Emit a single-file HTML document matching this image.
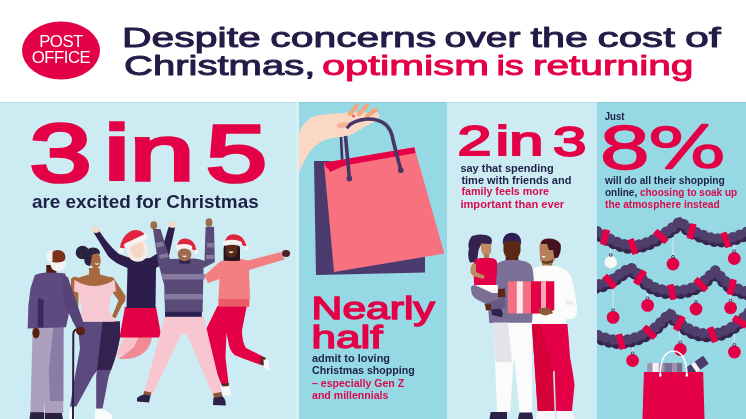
<!DOCTYPE html>
<html><head><meta charset="utf-8"><title>Despite concerns over the cost of Christmas, optimism is returning</title>
<style>
*{margin:0;padding:0}
html,body{width:746px;height:419px;overflow:hidden;background:#fff}
svg{display:block;font-family:"Liberation Sans",Arial,sans-serif}
</style></head><body>
<svg width="746" height="419" viewBox="0 0 746 419">
<rect width="746" height="419" fill="#fff"/>
<rect x="0" y="102" width="297" height="317" fill="#cdebf3"/>
<rect x="296.8" y="102" width="2" height="317" fill="#d9f4f9"/>
<rect x="298.8" y="102" width="148.2" height="317" fill="#97d8e5"/>
<rect x="447" y="102" width="150" height="317" fill="#cdebf3"/>
<rect x="597" y="102" width="149" height="317" fill="#97d8e5"/>
<rect x="0" y="102" width="297" height="1.2" fill="#bfdfe8"/>
<rect x="298.8" y="102" width="148.2" height="1.2" fill="#89cad6"/>
<rect x="447" y="102" width="150" height="1.2" fill="#bfdfe8"/>
<rect x="597" y="102" width="149" height="1.2" fill="#89cad6"/>
<ellipse cx="61" cy="50.5" rx="39" ry="29" fill="#e40046"/>
<text x="61" y="46.7" text-anchor="middle" font-size="16.8" fill="#fff" letter-spacing="-0.5">POST</text>
<text x="61" y="63.3" text-anchor="middle" font-size="16.8" fill="#fff" letter-spacing="-0.5">OFFICE</text>
<!-- panel 1: people -->
<g id="p1">
<!-- woman 3 (white hair, red skirt) -->
<path d="M124 337 L140 337 Q138 348 128 353 Q122 356 115.7 356.7 Q119 348 124 337 Z" fill="#f7c2cc"/>
<path d="M138.6 337 L152 337 Q150 352 135 357.5 Q125 360 118 358.6 Q128 353 134 347 Z" fill="#f28a95"/>
<path d="M125 307 L156 307 L161.5 337.6 L119.5 337.6 Z" fill="#e40046"/>
<path d="M93 231.5 L99.5 231.5 Q110 247 119 254 Q128 258 136 259 L150 258 L161.5 251 L168.5 227 L175 227.5 L169 256 Q164 264 156 268 L155.5 308 L126.5 308 L127.5 268 Q114 263 108 256 Z" fill="#2d1d4c"/>
<circle cx="95.8" cy="229.5" r="3.5" fill="#f7d6c4"/>
<circle cx="172.3" cy="224.5" r="3.3" fill="#f7d6c4"/>
<ellipse cx="137.8" cy="250.5" rx="10.8" ry="11.2" fill="#f4ebe7"/>
<ellipse cx="137.5" cy="249.5" rx="7" ry="8.5" fill="#f6d6c4"/>
<path d="M119.5 250 Q121 237 130 231.5 Q138 228 143.5 233 L145.5 237.5 L127.5 246.5 Z" fill="#e0243e"/>
<path d="M126.5 245.5 L145 236.8" stroke="#f7f2f0" stroke-width="5.2" stroke-linecap="round"/>
<circle cx="121" cy="250.5" r="2.7" fill="#f7f2f0"/>
<!-- woman 5 (pink sweater) -->
<path d="M217.5 306 L227 306 L226.7 326.8 L225.5 358 L228.6 384 L221.5 385 L211.5 359 L205.7 330 Z" fill="#e40046"/>
<path d="M225.5 306 L246.8 306 L242 330 Q242 342 246 348 L265 357.5 L263 365.5 Q246 360 234.4 355 Q229 350 228 340 L225 328 Z" fill="#e40046"/>
<path d="M221.8 383.5 L228.6 383 L229 387.5 L222.5 388 Z M261 356.5 L265.9 358 L264 365.5 L260 364 Z" fill="#5a2818"/>
<path d="M221 386.5 L230 386 L231 395.9 L222.5 395 Z M263.5 359.5 L268.5 360 L269.7 371 L264 368 Z" fill="#f7f7f9"/>
<path d="M219.5 262 Q228 258.5 234 258.5 Q242 258.5 248 260.5 L281 252 L284.5 259.5 L249 270 L250.1 299.2 L218.4 299.2 L219.5 279 L208 283 L204.5 275.5 Z" fill="#f47f82"/>
<rect x="218.4" y="299" width="31" height="7.7" fill="#ec5a6a"/>
<ellipse cx="286" cy="253.5" rx="4" ry="3.4" fill="#4a2020"/>
<rect x="228.6" y="254" width="8.6" height="7" fill="#4a1c10"/>
<path d="M223.6 248 Q224 243 231 243 Q240 243 240 248 L240 260.8 L223.6 260.8 Z" fill="#2a1420"/>
<path d="M226 245 L237.2 245 L237.2 253 Q235 257.5 231.5 257.5 Q227 257.5 226 253 Z" fill="#5a2818"/>
<path d="M228.5 251.5 Q231 254.5 233.8 251.5 Z" fill="#fff"/>
<path d="M224.5 243 Q226 234.5 233.5 234.3 Q241 234.3 244.5 241 L247 247 L240 244 Z" fill="#e0243e"/>
<path d="M225.5 243.2 Q232 241 239.5 243.5" stroke="#f7f2f0" stroke-width="5" stroke-linecap="round" fill="none"/>
<circle cx="246.2" cy="248" r="2.3" fill="#f7f2f0"/>
<!-- man 4 (striped sweater) -->
<path d="M165 316 L203.5 316 L222 393 L213 395 L187 335 L182 333 L152 395 L144 393 Z" fill="#f8c6d0"/>
<path d="M144 391 L151.5 392.5 L150.5 396 L143.5 395 Z M213 393.5 L221.5 392 L222.5 397 L214 398 Z" fill="#8a5a38"/>
<path d="M137 398 Q140 395 144 394.5 L150.5 395.5 L149 402.6 L137 401.5 Z M213.4 397.8 L222.5 396.5 Q226 399 225.8 405.4 L213 405 Z" fill="#2a2146"/>
<path d="M153 229 L160.5 229 L170 259 Q176 258.5 193 258.5 Q200 258.5 204.5 261 L205.6 226.7 L214 226.7 L214.8 262 L203.5 268 L202.6 312 L165 312 L164.2 285 L158 262 Z" fill="#5a4a78"/>
<g fill="#857a9e">
<path d="M161.5 274 L205 274 L204.5 279.5 L162.3 279.5 Z"/>
<path d="M164.5 294 L203 294 L203 299.5 L164.5 299.5 Z"/>
<path d="M155.4 243 L162.6 241.5 L164 246 L156.8 247.5 Z"/>
<path d="M207 243 L213.7 243 L213.8 247.5 L207 247.5 Z"/>
<path d="M159 255 L167.5 253 L168.5 257 L160 258.5 Z"/>
<path d="M206 255 L214.4 255 L214.5 259 L206 259 Z"/>
</g>
<rect x="165" y="311.8" width="36.8" height="5" fill="#2d2050"/>
<ellipse cx="153.8" cy="225.2" rx="3.4" ry="4" fill="#9c6c4c"/>
<ellipse cx="209" cy="222.5" rx="3.4" ry="4.2" fill="#9c6c4c"/>
<path d="M179.7 259 L189.8 259 L190 263.4 L179.5 263.4 Z" fill="#2d2050"/>
<ellipse cx="184.6" cy="254.5" rx="6.8" ry="6.8" fill="#9c6c4c"/>
<path d="M182 255.8 Q184.6 258.6 187.2 255.8 Z" fill="#fff"/>
<path d="M177 247 Q178 238.5 185 238.6 Q192 238.8 195 245 L196.5 251 L191.5 249 Z" fill="#e0243e"/>
<path d="M178.2 247.2 Q184 245.3 190 247.5" stroke="#f7f2f0" stroke-width="4.6" stroke-linecap="round" fill="none"/>
<circle cx="196" cy="252" r="2.2" fill="#f7f2f0"/>
<!-- woman 2 (pink top) -->
<path d="M77.5 321.5 L103.4 321.5 L97.6 370 L93 376 L76.3 406.5 L70 406.5 L75 376 L80 348.4 Z" fill="#5c4a7f"/>
<path d="M102 321.5 L120 321.5 L120 337 Q117 355 111 370 L108.8 376 L102.5 408.6 L96.2 408.6 L96.2 376 L97 370 Z" fill="#5c4a7f"/>
<path d="M102.6 321.5 L120 321.5 L120 337 Q117 355 111 370 L97 370 Z" fill="#34224f"/>
<path d="M95 409.6 L102.5 409 Q108 412 112 415 L112 419 L95 419 Z M69.5 408.5 L74.5 408.5 L75 419 L69 419 Z" fill="#fbfbfc"/>
<path d="M71 279 Q73.5 275.5 78 277.5 L78.5 300 L77.5 322 L72.5 322 L71 300 Z" fill="#a8683f"/>
<path d="M109 277 Q113 276 115 280 L125.5 296 Q126 301 122 305 L115.5 318.5 L112 316.5 L118.5 300.5 L110 289 Z" fill="#a8683f"/>
<path d="M89 268 L99.5 268 L100 274.5 Q108 276 114 279 L114 284 L95 288 L75 284 L75 279 Q82 276 89 274.5 Z" fill="#a8683f"/>
<path d="M74.5 280 Q84 286 95 286 Q106 286 114.5 279.5 L116 291 L111.5 293 L108.5 309 L115 321.8 L78.4 321.8 L82 309 L79 293 L74 291 Z" fill="#f8c8d2"/>
<ellipse cx="95.5" cy="260.5" rx="5.2" ry="8.2" fill="#a8683f"/>
<path d="M94.5 263.5 Q97 266 99.5 263.5 Z" fill="#fff"/>
<circle cx="82.5" cy="252.5" r="6.8" fill="#2a2340"/>
<path d="M84 255 Q86 247.5 93 247.5 Q100.5 248 100 254 Q96 252.5 92 255 L90.5 266 Q86 266 84.5 262 Z" fill="#2a2340"/>
<!-- old man -->
<path d="M32.7 327 L63.5 327 L63.3 413 L45 413 L44.5 401 L44 413 L30.4 413 Z" fill="#aba1bf"/>
<path d="M53.5 327 L63.5 327 L63.3 401 L50 401 L48.7 370 Z" fill="#8a7ca6"/>
<path d="M30.4 412.3 L44.2 412.3 L44.2 419 L29.5 419 Z M45 413 L61.7 413 L63 419 L45 419 Z" fill="#2a2140"/>
<rect x="46.3" y="265" width="10.1" height="9" fill="#4a1e10"/>
<path d="M34.9 275 Q40 272.5 46 272.5 L56 272.8 Q62 273 65 273.6 L67.8 280.8 L70.7 305 L66 327.2 L27.7 328.6 L28.4 305 L30.6 288 Z" fill="#5e4a80"/>
<path d="M38 298 L43.5 300 L43.5 327.2 L37.7 327.2 Z" fill="#3b2858"/>
<path d="M62 276 L67.8 277 L85 327 L77.5 331 L63.5 302 Z" fill="#56437a"/>
<ellipse cx="36" cy="333" rx="3.6" ry="5.2" fill="#5a2010"/>
<path d="M76.7 329.2 Q73.5 330 73.3 334 L73 419" fill="none" stroke="#2a2140" stroke-width="2"/>
<ellipse cx="80.5" cy="331" rx="4.6" ry="4.2" fill="#5a2010"/>
<ellipse cx="57.8" cy="257.2" rx="7.6" ry="7.2" fill="#7a3318"/>
<path d="M47 252 Q49 249 52.5 250.5 L52.5 261 L47.5 261 Q46 256 47 252 Z" fill="#f4f1f2"/>
<path d="M50.6 261 Q54 263 58 262.5 Q62.5 262 65.5 260 Q66.5 267 62 270.5 Q57 272.5 52.5 269.5 Q50 266 50.6 261 Z" fill="#f4f1f2"/>
</g>
<!-- panel 2: hand + bags -->
<g id="p2">
<path d="M298.8 133 C302 126 306 120.5 312 117 C320 114 332 114 348 112.5 L378 112.5 Q380.5 117 377 120.5 L371 123.5 C364 127 357 132 349 135.5 C342 137 336 137.3 330 138.5 C322 140 314 145 308.5 154 C304 161 300.5 168 298.8 174.5 Z" fill="#fbd8c4"/>
<g stroke="#f6a67b" stroke-width="4.2" stroke-linecap="round">
<path d="M350 114 L356.5 106"/><path d="M359 114 L367 105.5"/><path d="M367 116 L376 109.5"/>
</g>
<path d="M341 137 L342.5 168" stroke="#3f3062" stroke-width="2.6" fill="none"/>
<path d="M314 161 L331 161 L425 250 L425 272.5 L316 275 Z" fill="#4a3a6d"/>
<path d="M324 162.7 L414.3 147.3 L444.3 253.6 L334 272 Z" fill="#f7717f"/>
<path d="M324 162.7 L414.3 147.3 L415.5 153 L327 168.5 Z" fill="#e40046"/>
<path d="M326 164 L362 158 L330 172 Z" fill="#e40046"/>
<path d="M349.4 178.6 L345.5 136" stroke="#463766" stroke-width="3.6" fill="none"/>
<path d="M346.5 128 Q353 120 367 119 Q390 118.5 393 140 L400.8 170.2" stroke="#463766" stroke-width="3.6" fill="none" stroke-linejoin="round"/>
<path d="M336.5 124.5 Q342 121 348.5 122.5 Q348 127.5 341 128.5 Q336 128 336.5 124.5 Z" fill="#f4b498"/>
<circle cx="353.5" cy="116" r="1.4" fill="#e8506a"/>
<circle cx="349.4" cy="178.6" r="2.8" fill="#463766"/>
<circle cx="400.8" cy="170.2" r="2.8" fill="#463766"/>
</g>
<!-- panel 3: family -->
<g id="p3">
<!-- dad2 (right) -->
<path d="M542.2 259 L552.2 259 L552.2 268 L542.2 268 Z" fill="#9c6843"/>
<path d="M539.5 246 Q540 241 546 240.5 L554 241.5 L555 259 Q553 264.5 546.5 265 Q541 264.5 540 259 Z" fill="#b5805a"/>
<path d="M542 260.5 Q547 262.5 553 259.5 L553 262.5 Q547 265 542 263 Z" fill="#6b3a25"/>
<path d="M541.5 255.8 L545.5 256.3 L543.8 258.2 Z" fill="#fff"/>
<path d="M540.5 244 Q541 238.5 549 238.5 Q557 238.5 560.5 244 Q562 251 558 257.5 L554.5 258.5 L553 250 L549 250 L547 244 Z" fill="#47101e"/>
<path d="M532 270 Q537 266 543 265.5 L552 265.5 Q562 266.5 567 271 Q572 276 574 288 L577 306 Q578 317 572 319 L566 318 L566 326 L530 326 L528 300 Z" fill="#fbfbfc"/>
<path d="M566 300 L574 302 L576 316 Q572 320 565 319 Z" fill="#e9e9ef"/>
<!-- dad2 pants -->
<path d="M531.9 324 L567.4 324 Q569 340 570 357 Q573 372 574.5 385 L572 411 L556 411 L554.6 370 L553 372 L538 411 L535 371 Z" fill="#e40046"/>
<path d="M531.9 324 L541 324 L553 372 L554.6 411 L537.6 411 L535 371 Z" fill="#d60039"/>
<path d="M537.6 411 L554.6 411 L555 419 L536 419 Z M556.5 411 L572 411 L575 419 L557 419 Z" fill="#f6f6f8"/>
<!-- dad1 (middle) -->
<path d="M505.8 255 L518.2 255 L518.5 263 L505.5 263 Z" fill="#4a200f"/>
<path d="M503.5 239 L520.5 239 L520.5 251 Q519 259 512 261 Q505 259 503.5 251 Z" fill="#5a2814"/>
<path d="M503 245 Q501.5 233.5 512 232.8 Q522 233.3 521 245 L519.5 242 Q512 239.5 504.5 242 Z" fill="#2e2054"/>
<path d="M496 264 Q503 260 508 260 L516 260 Q527 260.5 531 265 Q534 270 534 290 L532 323 L489.3 323 L488 305 Q490 280 496 264 Z" fill="#7a6f96"/>
<!-- dad1 pants -->
<path d="M493.5 322.7 L531.9 322.7 L532 412.5 L519.5 412.5 L514 355 L510 412.5 L497 412.5 Z" fill="#fbfbfc"/>
<path d="M493.5 322.7 L508 322.7 L512 362 L495.5 362 Z" fill="#e3e3ea"/>
<path d="M490.7 412 L507 412 L507 419 L489.5 419 Z M519.5 412.5 L532 412.5 L533 419 L518 419 Z" fill="#2a2146"/>
<!-- girl -->
<path d="M472 236 Q478 233.5 486 235 Q492 236.5 492 241 L491 245 L481 244.5 L478.5 250 L477 262 L470 262.5 Q467 256 469 249 Q467 242 472 236 Z" fill="#34224f"/>
<path d="M481 243.5 L491.2 244 L491.2 252 Q490 255 488 255.5 L483 255 L481 250 Z" fill="#c08a63"/>
<path d="M484 254 L489 254 L489 259 L484 259 Z" fill="#b07a55"/>
<path d="M476 259 Q480 257.5 484 258 L490 258 Q496 258 497 262 L497 272 L495.7 285.7 L474.2 285.7 L473.5 272 Q472 263 476 259 Z" fill="#e40046"/>
<path d="M471 266 Q473 262 476 264 L476 272 L485 276 L483 279 L473 276 Q469 273 471 266 Z" fill="#c08a63"/>
<path d="M475 285 L497.8 285 L497.8 293 L476 293 Z" fill="#fafafa"/>
<path d="M471 287 Q472 284.5 476 285.5 L490 292 L505 299 L503.5 310 L492 307 L478 300 Q470 296 471 287 Z" fill="#7b6f96"/>
<path d="M484 304 L505 297 L506 307 L489 310 Z" fill="#665a85"/>
<path d="M485 304.4 L491 304 L491 310 L486 310.5 Z" fill="#5a2814"/>
<path d="M491 309.4 L501 308.5 L503 314 L502 317.3 L492 315 Z" fill="#2d2550"/>
<path d="M498 289 L505 288.6 L505.5 297 L498 297.5 Z" fill="#5a2814"/>
<!-- gift box -->
<rect x="507.8" y="281.4" width="46.4" height="32" fill="#f37080"/>
<rect x="516.8" y="281.4" width="6" height="32" fill="#fbe9ee"/>
<rect x="531" y="281.4" width="10" height="32" fill="#e40046"/>
<rect x="541" y="281.4" width="5" height="32" fill="#f5a6b4"/>
<rect x="546" y="281.4" width="8.2" height="32" fill="#e40046"/>
<!-- dad2 arm + hand -->
<path d="M552 311 Q562 306 570 304 L577 306 Q578 317 571 319 L553 319 Z" fill="#fbfbfc"/>
<path d="M538 309 Q543 307 550 308.5 L553 313 L546 315.5 Q539 315 538 309 Z" fill="#8d5a38"/>
</g>
<!-- panel 4: garlands -->
<defs>
<clipPath id="cp4"><rect x="597" y="102" width="149" height="317"/></clipPath>
<path id="gl1" d="M588 226 C 600 235, 620 247.5, 633 246.5 C 648 246, 662 236, 672 229 L 680 222.5 L 688 229 C 692 232, 697 234, 705 237 C 713 240, 718 240, 724 240 C 732 240, 740 236, 754 230"/><path id="gl2" d="M588 287 C 600 287, 612 282, 620 275 L 630.5 268.5 L 638 275 C 642 280, 648 286, 656 289 C 662 291, 667 292, 674 292 C 682 292, 692 290, 702 284 L 715 271.5 L 725 282 C 730 287, 738 291, 754 295"/><path id="gl3" d="M588 332 C 600 338, 612 342, 622 341.7 C 636 340, 648 334, 656 328 L 669.5 314.5 L 678 322 C 684 328, 692 332.5, 702 334.5 C 708 335, 713 335, 718 334 C 728 332, 737 326, 754 308"/>
</defs>
<g clip-path="url(#cp4)">
<g stroke="#eef6f8" stroke-width="0.7" fill="none"><path d="M610.7 240 V255.0"/><path d="M673 238 V256.8"/><path d="M734.3 238 V251.3"/><path d="M647.6 290 V298.2"/><path d="M696 290 V301.8"/><path d="M730.6 290 V300.6"/><path d="M613.1 286 V310.2"/><path d="M632.6 341 V353.3"/><path d="M680 330 V342.3"/><path d="M734.4 329 V344.8"/></g>
<g fill="none"><use href="#gl1" stroke="#42325d" stroke-width="9"/><use href="#gl1" transform="translate(0 1.8)" stroke="#36264e" stroke-width="11.5" stroke-linecap="round" stroke-dasharray="0 7.5"/><use href="#gl1" transform="translate(0 -1.3)" stroke="#503f6d" stroke-width="10.5" stroke-linecap="round" stroke-dasharray="0 7.5" stroke-dashoffset="3.7"/><use href="#gl2" stroke="#42325d" stroke-width="9"/><use href="#gl2" transform="translate(0 1.8)" stroke="#36264e" stroke-width="11.5" stroke-linecap="round" stroke-dasharray="0 7.5"/><use href="#gl2" transform="translate(0 -1.3)" stroke="#503f6d" stroke-width="10.5" stroke-linecap="round" stroke-dasharray="0 7.5" stroke-dashoffset="3.7"/><use href="#gl3" stroke="#42325d" stroke-width="9"/><use href="#gl3" transform="translate(0 1.8)" stroke="#36264e" stroke-width="11.5" stroke-linecap="round" stroke-dasharray="0 7.5"/><use href="#gl3" transform="translate(0 -1.3)" stroke="#503f6d" stroke-width="10.5" stroke-linecap="round" stroke-dasharray="0 7.5" stroke-dashoffset="3.7"/></g>
<g fill="#e40046"><rect x="-3.3" y="-7.8" width="6.6" height="15.6" rx="1" transform="translate(605.1 237.3) rotate(15)"/><rect x="-3.3" y="-7.8" width="6.6" height="15.6" rx="1" transform="translate(633.0 246.5) rotate(-18)"/><rect x="-3.3" y="-7.8" width="6.6" height="15.6" rx="1" transform="translate(660.9 236.5) rotate(-47)"/><rect x="-3.3" y="-7.8" width="6.6" height="15.6" rx="1" transform="translate(691.6 231.3) rotate(14)"/><rect x="-3.3" y="-7.8" width="6.6" height="15.6" rx="1" transform="translate(726.0 239.9) rotate(-20)"/><rect x="-3.3" y="-7.8" width="6.6" height="15.6" rx="1" transform="translate(609.9 281.7) rotate(-41)"/><rect x="-3.3" y="-7.8" width="6.6" height="15.6" rx="1" transform="translate(640.0 277.4) rotate(33)"/><rect x="-3.3" y="-7.8" width="6.6" height="15.6" rx="1" transform="translate(671.9 292.0) rotate(-13)"/><rect x="-3.3" y="-7.8" width="6.6" height="15.6" rx="1" transform="translate(700.9 284.7) rotate(-45)"/><rect x="-3.3" y="-7.8" width="6.6" height="15.6" rx="1" transform="translate(731.7 287.0) rotate(15)"/><rect x="-3.3" y="-7.8" width="6.6" height="15.6" rx="1" transform="translate(620.8 341.7) rotate(-15)"/><rect x="-3.3" y="-7.8" width="6.6" height="15.6" rx="1" transform="translate(649.5 332.3) rotate(-45)"/><rect x="-3.3" y="-7.8" width="6.6" height="15.6" rx="1" transform="translate(679.3 323.3) rotate(28)"/><rect x="-3.3" y="-7.8" width="6.6" height="15.6" rx="1" transform="translate(712.6 334.7) rotate(-19)"/><rect x="-3.3" y="-7.8" width="6.6" height="15.6" rx="1" transform="translate(740.0 321.7) rotate(-56)"/></g>
<g fill="#e40046"><circle cx="673" cy="264" r="6.4"/><circle cx="734.3" cy="258.5" r="6.4"/><circle cx="647.6" cy="305.4" r="6.4"/><circle cx="696" cy="309" r="6.4"/><circle cx="730.6" cy="307.8" r="6.4"/><circle cx="613.1" cy="317.4" r="6.4"/><circle cx="632.6" cy="360.5" r="6.4"/><circle cx="680.3" cy="349.5" r="6.4"/><circle cx="734.4" cy="352" r="6.4"/></g>
<circle cx="610.7" cy="262.2" r="6.2" fill="#f7f7f7"/>
<g fill="none" stroke="#3b3050" stroke-width="0.9"><circle cx="610.7" cy="255.0" r="1.4"/><circle cx="673" cy="256.8" r="1.4"/><circle cx="734.3" cy="251.3" r="1.4"/><circle cx="647.6" cy="298.2" r="1.4"/><circle cx="696" cy="301.8" r="1.4"/><circle cx="730.6" cy="300.6" r="1.4"/><circle cx="613.1" cy="310.2" r="1.4"/><circle cx="632.6" cy="353.3" r="1.4"/><circle cx="680.3" cy="342.3" r="1.4"/><circle cx="734.4" cy="344.8" r="1.4"/></g>
<rect x="647.2" y="362.9" width="35" height="12" rx="1.5" fill="#9c94ad"/>
<rect x="652.5" y="362.9" width="6.3" height="12" fill="#f2f2f6"/>
<rect x="664.5" y="362.9" width="7.5" height="12" fill="#7a6e92"/>
<rect x="677" y="362.9" width="5.2" height="12" fill="#7a6e92"/>
<g transform="translate(697 366) rotate(-35)"><rect x="-11" y="-5" width="22" height="10" rx="1" fill="#4a3b6b"/><rect x="-4" y="-5" width="4.5" height="10" fill="#f4f4f8"/></g>
<path d="M643.9 372 L703.2 372 L704.5 419 L642.5 419 Z" fill="#e40046"/>
<path d="M660.3 375.4 C 660 358, 666 351.3, 673.4 351.3 C 681 351.3, 687 358, 686.8 375.4" fill="none" stroke="#fff" stroke-width="1.6"/>
<circle cx="660.3" cy="375.4" r="1.3" fill="#fff"/><circle cx="686.8" cy="375.4" r="1.3" fill="#fff"/>
</g>

<text y="47" font-size="28.5" font-weight="normal" stroke-width="1.0" stroke-linejoin="round"><tspan x="122.0" textLength="138.78" lengthAdjust="spacingAndGlyphs" fill="#261b47" stroke="#261b47">Despite</tspan> <tspan x="270.3" textLength="165.78" lengthAdjust="spacingAndGlyphs" fill="#261b47" stroke="#261b47">concerns</tspan> <tspan x="444.6" textLength="76.01" lengthAdjust="spacingAndGlyphs" fill="#261b47" stroke="#261b47">over</tspan> <tspan x="530.4" textLength="57.51" lengthAdjust="spacingAndGlyphs" fill="#261b47" stroke="#261b47">the</tspan> <tspan x="597.6" textLength="77.34" lengthAdjust="spacingAndGlyphs" fill="#261b47" stroke="#261b47">cost</tspan> <tspan x="684.9" textLength="35.8" lengthAdjust="spacingAndGlyphs" fill="#261b47" stroke="#261b47">of</tspan></text>
<text y="74.8" font-size="28.5" font-weight="normal" stroke-width="1.0" stroke-linejoin="round"><tspan x="124.0" textLength="191.29" lengthAdjust="spacingAndGlyphs" fill="#261b47" stroke="#261b47">Christmas,</tspan> <tspan x="321.9" textLength="167.16" lengthAdjust="spacingAndGlyphs" fill="#e40046" stroke="#e40046">optimism</tspan> <tspan x="496.4" textLength="27.46" lengthAdjust="spacingAndGlyphs" fill="#e40046" stroke="#e40046">is</tspan> <tspan x="532.9" textLength="160.55" lengthAdjust="spacingAndGlyphs" fill="#e40046" stroke="#e40046">returning</tspan></text>
<text x="29.8" y="180.9" font-size="81.35" font-weight="normal" fill="#e40046" stroke="#e40046" stroke-width="3.66" textLength="61.7" lengthAdjust="spacingAndGlyphs">3</text>
<text x="103.9" y="180.1" font-size="77.49" font-weight="normal" fill="#e40046" stroke="#e40046" stroke-width="3.49" textLength="90.44" lengthAdjust="spacingAndGlyphs">in</text>
<text x="206.1" y="180.9" font-size="80.0" font-weight="normal" fill="#e40046" stroke="#e40046" stroke-width="3.6" textLength="60.91" lengthAdjust="spacingAndGlyphs">5</text>
<text x="32.0" y="208.3" font-size="18.6" font-weight="bold" fill="#1d2147" textLength="226.66" lengthAdjust="spacingAndGlyphs">are excited for Christmas</text>
<text x="311.6" y="318.8" font-size="31.0" font-weight="normal" fill="#e40046" stroke="#e40046" stroke-width="1.4" textLength="123.2" lengthAdjust="spacingAndGlyphs">Nearly</text>
<text x="311.6" y="347.5" font-size="31.0" font-weight="normal" fill="#e40046" stroke="#e40046" stroke-width="1.4" textLength="70.98" lengthAdjust="spacingAndGlyphs">half</text>
<text x="312.0" y="362.3" font-size="10.2" font-weight="bold" fill="#1d2147" textLength="78.08" lengthAdjust="spacingAndGlyphs">admit to loving</text>
<text x="312.0" y="374.4" font-size="10.2" font-weight="bold" fill="#1d2147" textLength="102.72" lengthAdjust="spacingAndGlyphs">Christmas shopping</text>
<text x="312.0" y="386.8" font-size="10.2" font-weight="bold" fill="#d80c4c" textLength="92.1" lengthAdjust="spacingAndGlyphs">– especially Gen Z</text>
<text x="312.0" y="399.2" font-size="10.2" font-weight="bold" fill="#d80c4c" textLength="76.44" lengthAdjust="spacingAndGlyphs">and millennials</text>
<text x="457.5" y="155.1" font-size="42.09" font-weight="normal" fill="#e40046" stroke="#e40046" stroke-width="1.89" textLength="34.01" lengthAdjust="spacingAndGlyphs">2</text>
<text x="495.6" y="155.1" font-size="40.77" font-weight="normal" fill="#e40046" stroke="#e40046" stroke-width="1.83" textLength="47.81" lengthAdjust="spacingAndGlyphs">in</text>
<text x="553.1" y="155.6" font-size="43.42" font-weight="normal" fill="#e40046" stroke="#e40046" stroke-width="1.95" textLength="33.4" lengthAdjust="spacingAndGlyphs">3</text>
<text x="460.4" y="171.5" font-size="10.2" font-weight="bold" fill="#1d2147" textLength="93.33" lengthAdjust="spacingAndGlyphs">say that spending</text>
<text x="461.4" y="183.7" font-size="10.2" font-weight="bold" fill="#1d2147" textLength="109.97" lengthAdjust="spacingAndGlyphs">time with friends and</text>
<text x="461.4" y="195.4" font-size="10.2" font-weight="bold" fill="#d80c4c" textLength="87.66" lengthAdjust="spacingAndGlyphs">family feels more</text>
<text x="460.4" y="207.6" font-size="10.2" font-weight="bold" fill="#d80c4c" textLength="103.81" lengthAdjust="spacingAndGlyphs">important than ever</text>
<text x="604.7" y="119.9" font-size="10.2" font-weight="bold" fill="#1d2147" textLength="19.76" lengthAdjust="spacingAndGlyphs">Just</text>
<text x="600.1" y="168.8" font-size="63.79" font-weight="normal" fill="#e40046" stroke="#e40046" stroke-width="1.4" textLength="49.56" lengthAdjust="spacingAndGlyphs">8</text>
<text x="641.7" y="168.4" font-size="55.02" font-weight="normal" fill="#e40046" stroke="#e40046" stroke-width="1.65" textLength="90.43" lengthAdjust="spacingAndGlyphs" font-family="NanumGothic, 'Liberation Sans', sans-serif">%</text>
<text x="605.0" y="183.5" font-size="10.2" font-weight="bold" fill="#1d2147" textLength="119.82" lengthAdjust="spacingAndGlyphs">will do all their shopping</text>
<text x="605.0" y="195.6" font-size="10.2" font-weight="bold" fill="#1d2147" textLength="132.11" lengthAdjust="spacingAndGlyphs">online, <tspan fill="#d80c4c">choosing to soak up</tspan></text>
<text x="605.0" y="208" font-size="10.2" font-weight="bold" fill="#d80c4c" textLength="114.76" lengthAdjust="spacingAndGlyphs">the atmosphere instead</text>
</svg>
</body></html>
